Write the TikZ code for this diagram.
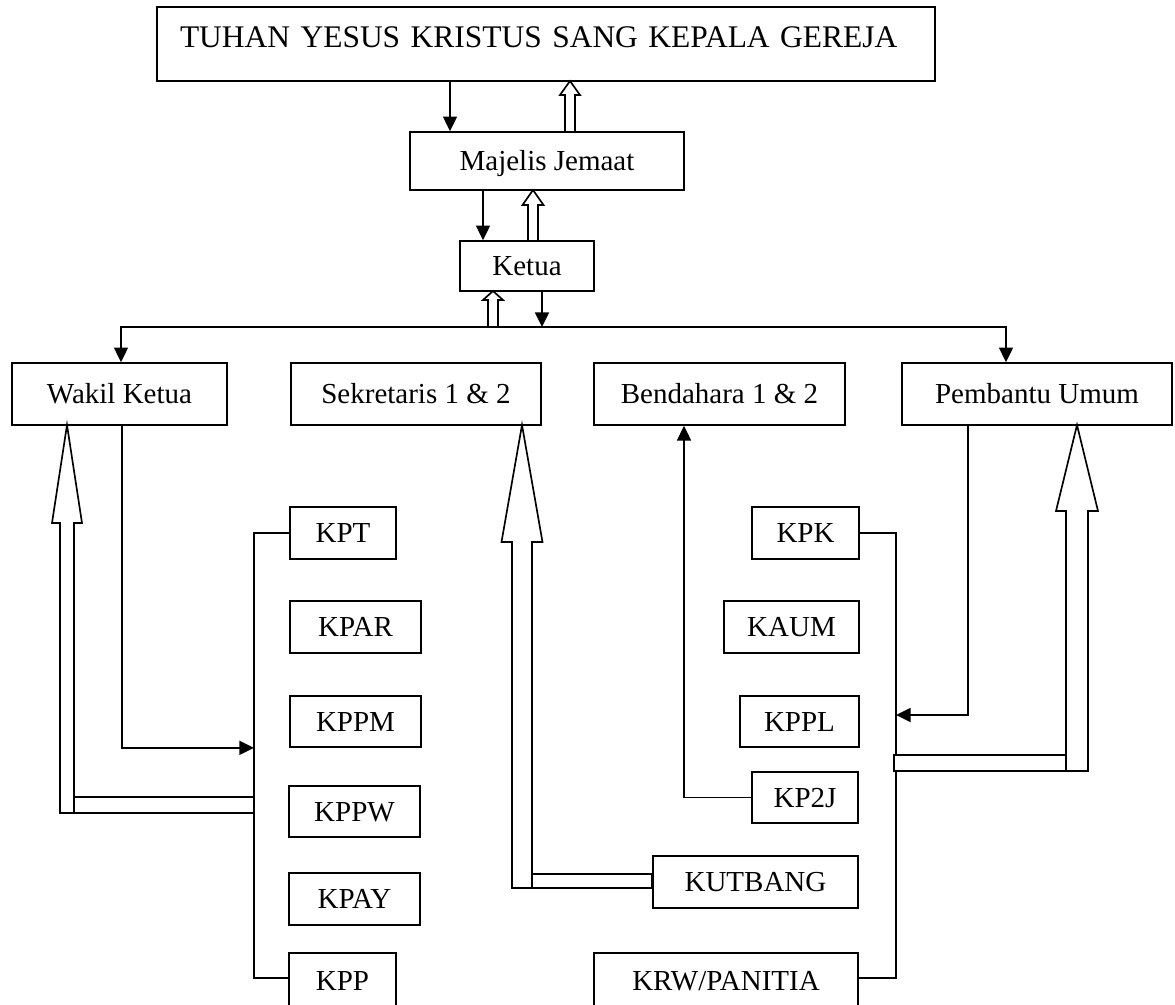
\documentclass[tikz,border=0pt]{standalone}
\usepackage{fontspec}
\setmainfont{Liberation Serif}
\usetikzlibrary{arrows.meta}

% hollow upward arrow: x, tip y, bottom y, shaft half width, head half width, head length
\newcommand{\hollowup}[6]{%
  \draw[fill=white] (#1-#4,#3) -- (#1-#4,#2+#6) -- (#1-#5,#2+#6) -- (#1,#2)
    -- (#1+#5,#2+#6) -- (#1+#4,#2+#6) -- (#1+#4,#3) -- cycle;}

\begin{document}
\begin{tikzpicture}[x=0.75pt,y=-0.75pt,line width=1.25pt]
\tikzstyle{box}=[draw,inner sep=0pt,text height=14.4pt,text depth=0pt,font=\fontsize{21.75}{26}\selectfont]
\tikzstyle{arr}=[-{Triangle[length=11pt,width=10.5pt]}]
\tikzstyle{both}=[{Triangle[length=11pt,width=10.5pt]}-{Triangle[length=11pt,width=10.5pt]}]
\useasboundingbox (0,0) rectangle (1175,1004);
% top of the chart
\node[box,text width=549pt,inner xsep=17.25pt,align=left,minimum height=55.5pt,
  text height=16pt,text depth=11.5pt,font=\fontsize{23.6}{28}\selectfont] (tuhan) at (546,44)
  {TUHAN YESUS KRISTUS SANG KEPALA GEREJA};
\node[box,minimum width=205.5pt,minimum height=43.5pt] (majelis) at (547,161) {Majelis Jemaat};
\node[box,minimum width=100.5pt,minimum height=37.5pt] (ketua) at (527,266) {Ketua};
% pengurus
\node[box,minimum width=161.25pt,minimum height=46.5pt] (wakil) at (119.5,394) {Wakil Ketua};
\node[box,minimum width=187.5pt,minimum height=46.5pt] (sek) at (416,394) {Sekretaris 1 \& 2};
\node[box,minimum width=188.25pt,minimum height=46.5pt] (bend) at (719.5,394) {Bendahara 1 \& 2};
\node[box,minimum width=202.5pt,minimum height=46.5pt] (pemb) at (1037,394) {Pembantu Umum};
% komisi kiri
\node[box,minimum width=79.5pt,minimum height=39pt] (kpt) at (343,533) {KPT};
\node[box,minimum width=98.25pt,minimum height=39pt] (kpar) at (355.5,627) {KPAR};
\node[box,minimum width=98.25pt,minimum height=38.25pt] (kppm) at (355.5,721.5) {KPPM};
\node[box,minimum width=98.25pt,minimum height=38.25pt] (kppw) at (354.5,811.5) {KPPW};
\node[box,minimum width=98.25pt,minimum height=39pt] (kpay) at (354.5,899) {KPAY};
\node[box,minimum width=80.25pt,minimum height=42pt] (kpp) at (342.5,981) {KPP};
% komisi kanan
\node[box,minimum width=80.25pt,minimum height=39pt] (kpk) at (805.5,533) {KPK};
\node[box,minimum width=101.25pt,minimum height=39pt] (kaum) at (791.5,627) {KAUM};
\node[box,minimum width=89.25pt,minimum height=38.25pt] (kppl) at (799.5,721.5) {KPPL};
\node[box,minimum width=79.5pt,minimum height=38.25pt] (kp2j) at (805,797.5) {KP2J};
\node[box,minimum width=153.75pt,minimum height=39pt] (kutbang) at (755.5,882) {KUTBANG};
\node[box,minimum width=198pt,minimum height=42pt] (krw) at (726,981) {KRW/PANITIA};
\coordinate (bus) at (542,327);
\coordinate (rb) at (896,715);
% garis komando
\draw[arr] (450,0 |- tuhan.south) -- (450,0 |- majelis.north);
\draw[arr] (483,0 |- majelis.south) -- (483,0 |- ketua.north);
\draw[arr] (542,0 |- ketua.south) -- (bus);
\draw[both] (121,0 |- wakil.north) -- (121,0 |- bus) -- (1006,0 |- bus) -- (1006,0 |- pemb.north);
\draw (kpt.west) -| (254,978) -- (kpp.west |- 0,978);
\draw (kpk.east) -| (896,978) -- (krw.east |- 0,978);
\draw[arr] (122,0 |- wakil.south) |- (254,0 |- kppm.south);
\draw[arr] (kp2j.west) -| (684,0 |- bend.south);
\draw[arr] (968,0 |- pemb.south) |- (rb);
% laporan (panah berongga)
\draw[fill=white] (74,797) rectangle (254,813);
\draw[fill=white] (532,874) rectangle (kutbang.west |- 0,888);
\draw[fill=white] (894,755) rectangle (1066,771);
\hollowup{570}{81}{132}{5}{10}{14}
\hollowup{533}{190}{241}{5}{10.5}{15}
\hollowup{493}{291}{327}{5}{10}{9}
\hollowup{67}{425}{813}{7}{15}{98}
\hollowup{522}{425}{888}{10}{20.5}{117}
\hollowup{1077}{425}{771}{11}{21}{86}
\end{tikzpicture}
\end{document}
